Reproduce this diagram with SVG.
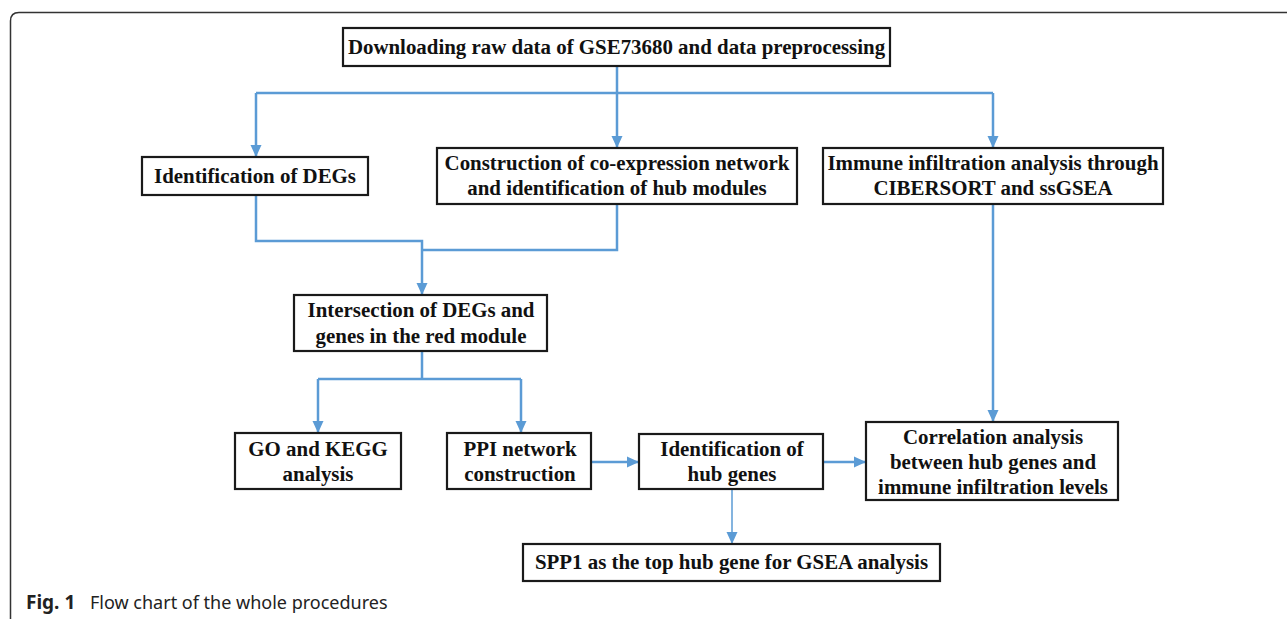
<svg xmlns="http://www.w3.org/2000/svg" width="1287" height="619" viewBox="0 0 1287 619">
<style>
.box{fill:#fff;stroke:#1a1a1a;stroke-width:2.2}
.t{font-family:"Liberation Serif","Times New Roman",serif;font-weight:bold;font-size:20.9px;fill:#111;text-anchor:middle}
.c{fill:none;stroke:#5B9BD5;stroke-width:2.5}
.thin{fill:none;stroke:#5B9BD5;stroke-width:1.5}
.cap{font-family:"Noto Sans","Open Sans",sans-serif;font-size:18px;fill:#222}
</style>
<defs>
<marker id="ah" markerUnits="userSpaceOnUse" markerWidth="12" markerHeight="12" viewBox="0 0 12 12" refX="11" refY="6" orient="auto">
<path d="M0,0.5 L12,6 L0,11.5 Z" fill="#5B9BD5"/>
</marker>
</defs>
<rect width="1287" height="619" fill="#fff"/>
<path d="M10.5,619 V21 Q10.5,12.5 19,12.5 H1287" fill="none" stroke="#333" stroke-width="1.5"/>

<g id="connectors">
<path class="c" d="M617,66 V147" marker-end="url(#ah)"/>
<path class="c" d="M256,93 H993"/>
<path class="c" d="M256,93 V156" marker-end="url(#ah)"/>
<path class="c" d="M993,93 V147" marker-end="url(#ah)"/>
<path class="c" d="M256,195 V241 H422 V294" marker-end="url(#ah)"/>
<path class="c" d="M617,204 V250 H422"/>
<path class="c" d="M422,351 V379"/>
<path class="c" d="M318,379 H521"/>
<path class="c" d="M318,379 V432" marker-end="url(#ah)"/>
<path class="c" d="M521,379 V432" marker-end="url(#ah)"/>
<path class="c" d="M591,462 H638" marker-end="url(#ah)"/>
<path class="c" d="M823,462 H865" marker-end="url(#ah)"/>
<path class="c" d="M993,204 V421" marker-end="url(#ah)"/>
<path class="thin" d="M732,489 V543" marker-end="url(#ah)"/>
</g>

<g id="n-download">
<rect class="box" x="343" y="28" width="547" height="38"/>
<text class="t" x="616.5" y="54">Downloading raw data of GSE73680 and data preprocessing</text>
</g>
<g id="n-degs">
<rect class="box" x="142" y="157" width="226" height="38"/>
<text class="t" x="255" y="183">Identification of DEGs</text>
</g>
<g id="n-coexp">
<rect class="box" x="437" y="148" width="360" height="56"/>
<text class="t" x="617" y="170">Construction of co-expression network</text>
<text class="t" x="617" y="195">and identification of hub modules</text>
</g>
<g id="n-immune">
<rect class="box" x="823" y="148" width="340" height="56"/>
<text class="t" x="993" y="170">Immune infiltration analysis through</text>
<text class="t" x="993" y="195">CIBERSORT and ssGSEA</text>
</g>
<g id="n-intersect">
<rect class="box" x="294" y="295" width="253" height="56"/>
<text class="t" x="421" y="317">Intersection of DEGs and</text>
<text class="t" x="421" y="343">genes in the red module</text>
</g>
<g id="n-go">
<rect class="box" x="235" y="433" width="166" height="56"/>
<text class="t" x="318" y="456">GO and KEGG</text>
<text class="t" x="318" y="481">analysis</text>
</g>
<g id="n-ppi">
<rect class="box" x="447" y="433" width="144" height="56"/>
<text class="t" x="520" y="456">PPI network</text>
<text class="t" x="520" y="481">construction</text>
</g>
<g id="n-hub">
<rect class="box" x="639" y="434" width="184" height="55"/>
<text class="t" x="732" y="456">Identification of</text>
<text class="t" x="732" y="481">hub genes</text>
</g>
<g id="n-corr">
<rect class="box" x="866" y="422" width="252" height="78"/>
<text class="t" x="993" y="444">Correlation analysis</text>
<text class="t" x="993" y="469">between hub genes and</text>
<text class="t" x="993" y="494">immune infiltration levels</text>
</g>
<g id="n-spp1">
<rect class="box" x="523" y="544" width="417" height="37"/>
<text class="t" x="731.5" y="569">SPP1 as the top hub gene for GSEA analysis</text>
</g>

<text class="cap" x="26" y="609"><tspan font-weight="bold" font-size="19px">Fig. 1</tspan><tspan x="90">Flow chart of the whole procedures</tspan></text>
</svg>
